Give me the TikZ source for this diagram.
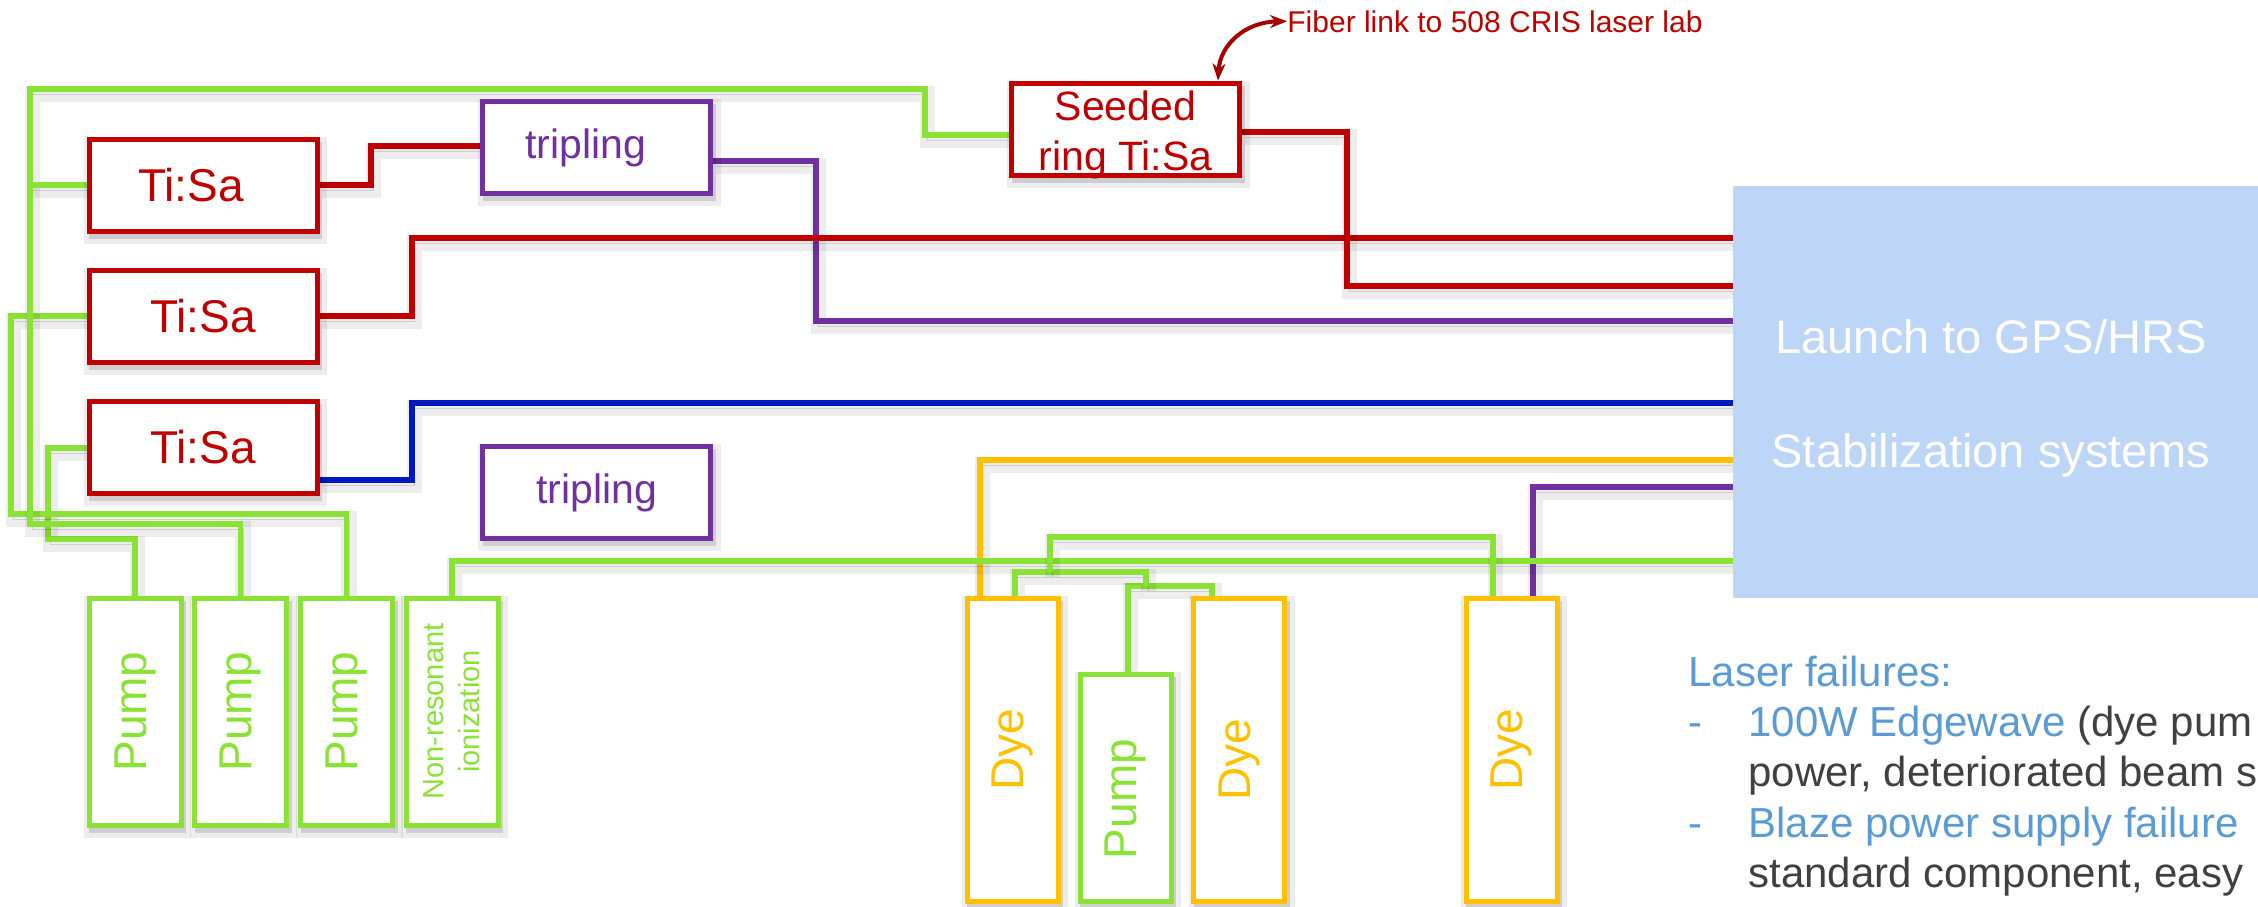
\documentclass[tikz,border=0pt]{standalone}
\usepackage{fontspec}
\setmainfont{Liberation Sans}
\usetikzlibrary{arrows.meta,backgrounds}
\definecolor{cRed}{HTML}{C00000}
\definecolor{cPur}{HTML}{7030A0}
\definecolor{cBlu}{HTML}{0018C0}
\definecolor{cGrn}{HTML}{8AE234}
\definecolor{cOrg}{HTML}{FFC000}
\definecolor{cLaunch}{HTML}{BDD5F6}
\definecolor{cTxtBlue}{HTML}{5B9BD5}
\definecolor{cTxtGray}{HTML}{404040}
\newcommand\setfs[2]{\fontsize{#1}{#2}\selectfont}

\begin{document}
\begin{tikzpicture}[x=0.5pt,y=-0.5pt,
  shd/.style={
    preaction={draw=black,draw opacity=0.07,line width=\pgflinewidth+2.5pt,transform canvas={xshift=1.3pt,yshift=-2.6pt}},
    preaction={draw=black,draw opacity=0.13,transform canvas={xshift=1.3pt,yshift=-2.6pt}}},
  beam/.style={shd,line width=2.75pt,line join=miter},
  unit/.style={shd,draw=#1,fill=white,line width=2.5pt,inner sep=0pt,text=#1},
  hbox/.style={minimum width=114pt,minimum height=46pt},
  vbox/.style={minimum width=46pt,minimum height=113.5pt},
  tallbox/.style={minimum width=45.5pt,minimum height=151.5pt},
  vtext/.style={rotate=90,text=#1,font=\setfs{23pt}{27pt}},
  note/.style={anchor=base west,inner sep=0pt,font=\setfs{21pt}{25pt}},
]
\useasboundingbox (0,0) rectangle (2258,906);
\clip (0,0) rectangle (2258,906);

% Ti:Sa lasers and frequency conversion units
\node[unit=cRed,hbox,font=\setfs{23pt}{28pt}] (tisa1) at (203,185) {Ti:Sa\hspace*{12pt}};
\node[unit=cRed,hbox,font=\setfs{23pt}{28pt}] (tisa2) at (203,316) {Ti:Sa};
\node[unit=cRed,hbox,font=\setfs{23pt}{28pt}] (tisa3) at (203,447) {Ti:Sa};
\node[unit=cPur,hbox,font=\setfs{20.5pt}{25pt}] (trip1) at (596.5,147.5) {tripling\hspace*{11pt}};
\node[unit=cPur,hbox,font=\setfs{20.5pt}{25pt}] (trip2) at (596.5,492.5) {tripling};
\node[unit=cRed,hbox] (seed) at (1125.5,129) {};
\node[text=cRed,align=center,font=\setfs{20.5pt}{25pt},inner sep=0pt] (seedtxt) at (1125.5,135) {Seeded\\ring Ti:Sa};

% pump lasers
\node[unit=cGrn,vbox,label={[vtext=cGrn]center:Pump}] (pump1) at (135,711.5) {};
\node[unit=cGrn,vbox,label={[vtext=cGrn]center:Pump}] (pump2) at (240.5,711.5) {};
\node[unit=cGrn,vbox,label={[vtext=cGrn]center:Pump}] (pump3) at (346.5,711.5) {};
\node[unit=cGrn,vbox,label={[rotate=90,text=cGrn,align=center,font=\setfs{14.5pt}{18pt}]center:{Non-resonant\\ionization}}] (nonres) at (452,711.5) {};

% dye lasers and their pump
\node[unit=cOrg,tallbox,label={[vtext=cOrg]center:Dye}] (dye1) at (1012.5,749.5) {};
\node[unit=cGrn,minimum width=45.5pt,minimum height=113.5pt] (dpump) at (1125.5,787.5) {};
\node[vtext=cGrn] (dpumptxt) at (1125.5,799) {Pump};
\node[unit=cOrg,tallbox] (dye2) at (1239,749.5) {};
\node[vtext=cOrg] (dye2txt) at (1239,760) {Dye};
\node[unit=cOrg,tallbox,label={[vtext=cOrg]center:Dye}] (dye4) at (1511.5,749.5) {};

% beam launch and stabilization
\node[fill=cLaunch,minimum width=268.5pt,minimum height=206pt,inner sep=0pt,outer sep=0pt,anchor=north west] (launch) at (1733,186) {};
\node[anchor=base,text=white,font=\setfs{23.5pt}{28pt}] (ltxt1) at (1991,353) {Launch to GPS/HRS};
\node[anchor=base,text=white,font=\setfs{23.5pt}{28pt}] (ltxt2) at (1991,467) {Stabilization systems};

% fiber link
\node[anchor=base west,inner sep=0pt,text=cRed,font=\setfs{15pt}{18pt}] (fiber) at (1287,32) {Fiber link to 508 CRIS laser lab};
\draw[cRed!85!black,line width=2pt,{Stealth[length=8.5pt,width=6.5pt]}-{Stealth[length=8.5pt,width=6.5pt]}]
  (seed.north-|1218,0) .. controls (1220,45) and (1245,22) .. (fiber.west);

% failure notes
\node[note,text=cTxtBlue] (lf) at (1688,686) {Laser failures:};
\node[note,text=cTxtBlue] (dash1) at (1688,736) {-};
\node[note,text=cTxtBlue] (item1) at (1748,736) {100W Edgewave \textcolor{cTxtGray}{(dye pum}};
\node[note,text=cTxtGray] (item1b) at (1748,786) {power, deteriorated beam s};
\node[note,text=cTxtBlue] (dash2) at (1688,837) {-};
\node[note,text=cTxtBlue] (item2) at (1748,837) {Blaze power supply failure};
\node[note,text=cTxtGray] (item2b) at (1748,887) {standard component, easy};

% beam and pump connections
\begin{scope}[on background layer]
\fill[white] (0,0) rectangle (2258,906);
\draw[beam,cGrn] (tisa3.west|-0,448) -- (48,448) -- (48,539) -| (pump1.north);
\draw[beam,cGrn] (tisa2.west) -- (11,316) -- (11,514) -| (pump3.north);
\draw[beam,cGrn] (seed.west|-0,135) -- (925,135) -- (925,89) -- (30,89) -- (30,524) -| (pump2.north);
\draw[beam,cGrn] (tisa1.west) -- (30,185);
\draw[beam,cRed] (tisa1.east) -- (371,185) -- (371,146) -- (trip1.west|-0,146);
\draw[beam,cPur] (trip1.east|-0,161) -- (816,161) -- (816,321) -- (launch.west|-0,321);
\draw[beam,cRed] (tisa2.east) -- (412,316) -- (412,238) -- (launch.west|-0,238);
\draw[beam,cRed] (seed.east|-0,132) -- (1347,132) -- (1347,286) -- (launch.west|-0,286);
\draw[beam,cBlu] (tisa3.east|-0,480) -- (412,480) -- (412,403) -- (launch.west|-0,403);
\draw[beam,cOrg] (launch.west|-0,460) -- (980,460) -- (dye1.north-|980,0);
\draw[beam,cPur] (launch.west|-0,487) -- (1533,487) -- (dye4.north-|1533,0);
\draw[beam,cGrn] (launch.west|-0,561) -| (nonres.north);
\draw[beam,cGrn] (dpump.north-|1128,0) -- (1128,586) -- (1212,586) -- (dye2.north-|1212,0);
\draw[beam,cGrn] (1146,586) -- (1146,572) -- (1015,572) -- (dye1.north-|1015,0);
\draw[beam,cGrn] (1050,572) -- (1050,537) -- (1493,537) -- (dye4.north-|1493,0);
\end{scope}
\end{tikzpicture}
\end{document}
